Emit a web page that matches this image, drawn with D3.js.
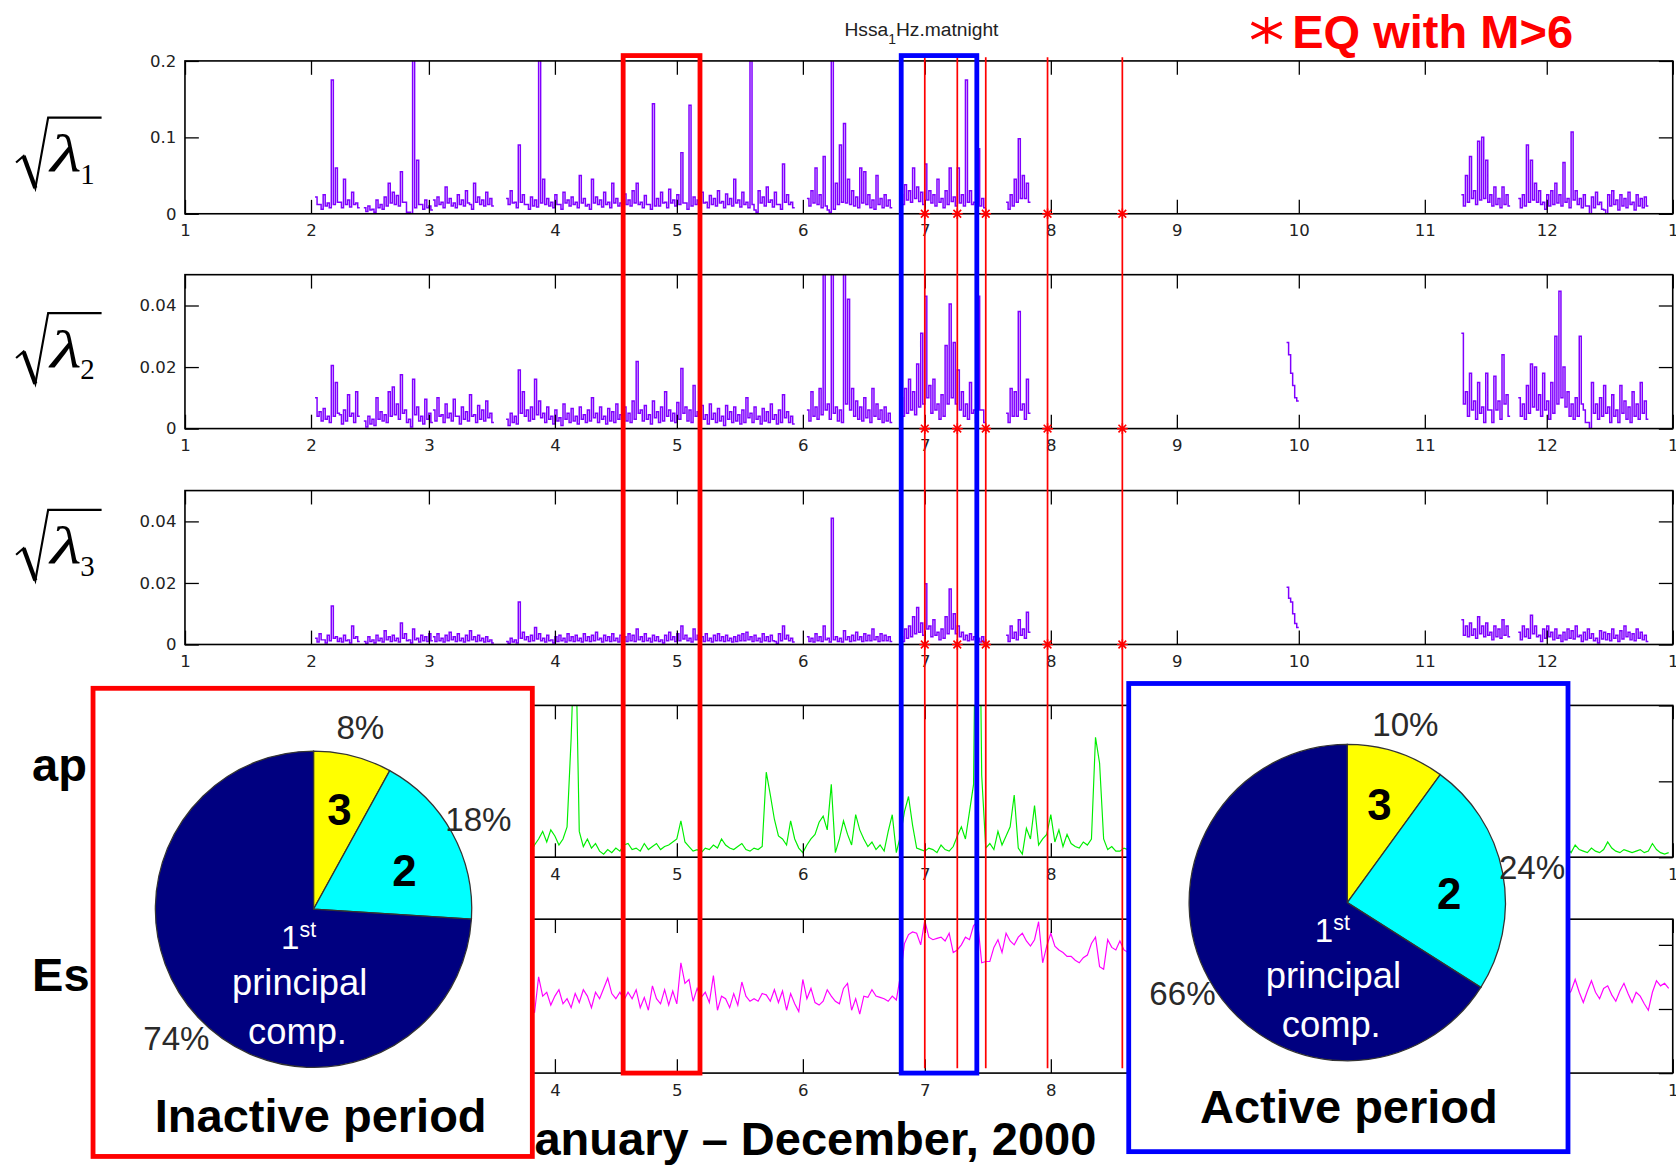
<!DOCTYPE html>
<html>
<head>
<meta charset="utf-8">
<script src="https://cdn.jsdelivr.net/npm/d3@7"></script>
<style>
body { margin: 0; background: #fff; }
.axis text { font-family: "DejaVu Sans", sans-serif; font-size: 15.5px; fill: #222; }
.axis line { stroke: #000; stroke-width: 1.2; }
.big { font-family: "Liberation Sans", Arial, sans-serif; font-weight: bold; font-size: 44px; }
.pct { font-family: "Liberation Sans", Arial, sans-serif; font-size: 31px; fill: #2a2a2a; }
.wht { font-family: "Liberation Sans", Arial, sans-serif; fill: #fff; }
</style>
</head>
<body>
<script>
// day of year (Jan 1 = 0) where each data run starts; one high and one low value per day
var lam1Start = [32, 44, 61, 79, 153, 176, 195, 202, 314, 328];
// sqrt(lambda1), daily highs, units of 0.001
var lam1Hi = [
  [22,12,25,14,175,60,15,45,18,28,14],
  [8,10,6,18,12,22,40,28,24,55,15,2,210,70,12,18,10],
  [18,22,15,35,20,14,25,18,30,12,40,22,18,28,20],
  [20,30,15,90,25,12,22,18,210,45, 20,15,25,12,28,18,22,15,50,20, 12,45,22,18,28,15,40,20,14,26,
   18,30,40,15,24,12,144,20,28,15, 32,18,25,80,14,142,22,18,28,15, 24,20,30,16,26,20,45,18,28,15,
   210,5,30,22,35,18,28,12,65,25, 15],
  [20,30,60,25,75,5,210,40,90,118,45,30,22,60,55,25,18,50,20,25,18],
  [25,38,30,60,35,28,65,30,25,45,20,30,60,22,60,25,175,30,15],
  [85,20],
  [15,25,45,98,50,40],
  [25,50,75,30,95,100,70,25,35,20,35,25],
  [20,25,90,70,40,30,15,25,30,40, 25,67,20,107,30,20,25,10,22,28, 15,5,25,30,18,25,20,28,15,25, 20,22]
];
// sqrt(lambda1), daily lows
var lam1Lo = [
  [12,6,10,8,12,15,8,12,9,12,8],
  [3,5,2,8,6,10,14,12,10,15,2,0,8,12,6,8,5],
  [10,12,8,14,10,8,12,10,14,6,15,12,10,12,10],
  [12,14,8,15,12,6,10,9,14,12, 10,8,12,6,14,10,12,8,14,10, 6,14,12,9,12,8,14,10,7,12,
   10,14,12,8,12,6,10,10,14,8, 14,10,12,14,6,10,12,10,14,8, 12,10,14,8,12,10,14,9,12,8,
   12,2,14,10,15,9,12,6,15,12, 8],
  [10,14,12,8,10,2,6,12,15,14,12,10,8,14,12,8,6,12,8,10,8],
  [12,18,15,20,16,12,18,14,10,15,8,12,16,10,14,10,15,12,6],
  [10,8],
  [6,10,15,20,20,15],
  [10,15,20,12,18,20,15,10,12,8,12,10],
  [8,10,15,18,15,12,6,10,12,14, 10,15,8,18,12,8,10,0,8,12, 6,0,10,12,5,10,8,12,5,10, 8,10]
];

var lam2Start = [32, 44, 61, 79, 153, 176, 195, 202, 271, 314, 328];
// sqrt(lambda2), daily highs, units of 0.0001
var lam2Hi = [
  [100,55,65,40,205,150,45,60,110,50,120],
  [25,40,30,100,55,45,120,135,80,175,60,30,160,70,40,95,50],
  [60,100,45,80,50,95,40,70,55,110,45,75,60,90,50],
  [30,50,40,190,120,60,70,160,90,50, 70,40,60,35,80,50,65,40,70,45, 60,100,50,70,40,65,55,80,45,70,
   50,90,218,60,75,45,90,55,70,120, 60,50,85,195,70,60,140,55,75,45, 80,50,65,40,75,55,70,45,60,100,
   50,70,40,65,55,80,45,60,110,55, 40],
  [60,120,70,130,600,80,600,70,60,600,420,130,90,70,100,60,130,80,60,70,50],
  [100,130,160,120,210,310,430,140,160,80,110,270,405,280,190,120,80,150,60],
  [430,60],
  [50,130,120,380,80,160],
  [280,180,100],
  [310,120,180,90,150,70,180,60,170,90,240,110],
  [100,80,140,210,200,110,180,90,150,300, 446,200,120,80,100,300,60,20,150,80, 100,140,70,110,60,140,90,70,120,80, 150,90]
];
var lam2Lo = [
  [40,25,30,20,40,50,15,25,40,20,40],
  [5,15,10,30,25,20,40,45,30,50,20,5,45,25,15,30,20],
  [25,40,20,35,25,40,15,30,25,40,20,30,25,35,20],
  [10,20,15,50,40,25,30,45,35,20, 30,15,25,10,30,20,25,15,30,20, 25,35,20,30,15,25,20,30,15,25,
   20,30,50,25,30,15,35,20,25,40, 25,20,30,50,25,20,40,20,30,15, 30,20,25,10,30,20,25,15,20,35,
   20,30,15,25,20,30,15,20,35,20, 15],
  [25,40,30,45,60,30,50,25,20,80,60,40,30,25,35,20,40,30,20,25,20],
  [40,50,60,45,70,80,100,50,60,30,40,80,100,80,60,40,30,50,20],
  [60,20],
  [20,40,40,60,30,50],
  [240,140,90],
  [80,40,60,30,50,20,60,20,60,30,80,40],
  [40,30,50,70,60,40,60,30,50,80, 100,70,40,30,40,80,20,0,50,30, 40,50,20,40,20,50,30,20,40,30, 50,30]
];

var lam3Start = [32, 44, 61, 79, 153, 176, 195, 202, 271, 314, 328];
// sqrt(lambda3), daily highs, units of 0.0001
var lam3Hi = [
  [20,35,15,30,125,25,20,30,15,60,25],
  [10,25,15,30,20,45,25,30,20,70,35,15,50,20,30,25,35],
  [25,35,20,30,40,25,35,20,30,45,25,30,20,25,15],
  [10,20,15,138,40,25,30,55,35,20, 30,15,25,30,20,35,25,30,20,35, 25,30,40,20,30,25,35,20,30,25,
   35,30,50,25,35,20,30,25,15,30, 40,25,35,60,30,20,50,30,25,35, 20,30,35,25,30,20,25,30,35,40,
   25,30,20,35,25,30,10,35,60,30, 20],
  [25,20,35,25,60,20,410,25,20,45,25,30,40,25,35,30,50,25,35,30,25],
  [25,50,60,90,120,70,197,60,80,40,50,90,180,100,60,40,30,35,25],
  [20,25],
  [30,60,40,80,50,105],
  [186,138,68],
  [80,60,70,50,90,60,70,40,60,50,80,60],
  [40,60,50,95,60,30,50,60,40,50, 30,40,50,45,60,30,40,50,35,20, 45,40,35,50,30,45,60,40,35,50, 40,30]
];
var lam3Lo = [
  [8,15,5,12,20,10,8,12,5,20,10],
  [3,10,5,12,8,15,10,12,8,20,12,5,15,8,12,10,12],
  [10,12,8,12,15,10,12,8,12,15,10,12,8,10,5],
  [3,8,5,20,15,10,12,18,12,8, 12,5,10,12,8,12,10,12,8,12, 10,12,15,8,12,10,12,8,12,10,
   12,10,15,10,12,8,12,10,5,12, 15,10,12,18,12,8,15,12,10,12, 8,12,12,10,12,8,10,12,12,15,
   10,12,8,12,10,12,3,12,18,12, 8],
  [10,8,12,10,15,8,15,10,8,15,10,12,15,10,12,12,15,10,12,12,10],
  [10,20,25,35,40,30,50,25,30,15,20,35,50,35,25,15,12,15,10],
  [8,10],
  [10,20,15,30,20,40],
  [150,100,55],
  [30,25,30,20,35,25,30,15,25,20,30,25],
  [15,25,20,35,25,10,20,25,15,20, 10,15,20,18,25,10,15,20,12,5, 18,15,12,20,10,18,25,15,12,20, 15,10]
];

// geomagnetic ap index, daily
var apStart = [85, 338];
var apVals = [
  [3,8,12,17,10,18,14,8,12,20, 78,160,17,7,12,6,9,4,2,5, 3,6,4,8,9,5,6,4,9,5, 7,9,5,7,8,10,12,24,10,7,
   4,5,3,6,5,8,6,12,8,6, 5,7,9,5,4,6,5,7,56,41, 25,14,12,8,24,12,6,3,8,12, 15,23,27,18,48,3,12,24,15,8,
   28,18,12,7,10,5,8,4,17,28, 3,14,30,40,21,6,5,4,6,5, 3,8,5,4,7,14,20,12,30,48, 300,54,6,9,5,17,8,14,20,41,
   6,2,19,12,34,8,12,15,28,10, 18,7,15,9,7,6,10,8,12,79, 62,12,5,7,4,4,6,5,4],
  [5,4,6,3,8,5,4,3,6,4, 3,5,10,6,4,3,5,4,3,4, 5,3,4,9,5,3,2,3]
];

// Es, daily
var esStart = [85, 338];
var esVals = [
  [5.8,4.7,7.5,6.0,6.3,5.3,6.0,6.5,5.4,5.8, 5.1,6.2,5.5,6.5,6.0,5.1,6.3,5.8,6.6,7.4, 6.2,5.8,6.3,5.7,6.3,5.8,6.5,5.1,5.9,4.9,
   6.8,5.8,5.4,6.5,5.3,6.4,5.4,8.6,7.0,7.3, 5.6,6.6,5.9,6.3,5.5,7.6,4.9,6.0,5.8,5.1, 6.2,5.3,7.1,6.0,5.6,5.8,5.6,6.2,6.1,5.6,
   6.5,5.5,6.4,4.9,6.2,5.4,4.8,7.3,5.8,6.6, 5.5,5.3,5.6,6.5,6.0,5.6,5.4,6.6,7.0,4.9, 5.8,4.6,6.0,5.9,6.5,6.0,5.9,5.8,5.6,6.0,
   5.7,7.6,10.1,10.8,11.0,10.9,10.0,11.9,10.6,10.4, 10.5,10.6,10.3,10.9,9.4,9.6,10.0,10.6,10.4,11.5,
   11.8,8.6,8.7,8.7,9.8,10.4,9.4,10.9,10.3,10.0, 10.6,10.9,10.3,9.9,10.4,11.8,8.6,9.9,10.9,9.9,
   9.6,9.4,9.1,9.1,8.8,8.6,9.0,9.2,10.1,10.6, 8.3,8.1,10.4,9.8,9.6,10.3,9.6,9.4,10.0],
  [6.2,6.4,6.0,6.4,7.3,6.3,5.5,6.4,7.2,6.3, 5.8,6.6,6.8,6.1,5.6,6.4,7.0,6.2,5.5,6.3, 6.0,5.4,4.9,6.3,7.2,6.8,7.0,6.6]
];

var lam1Ticks = [0, 0.1, 0.2];
var lam23Ticks = [0, 0.02, 0.04];
var apTicks = [0, 50, 100];
var esTicks = [0, 5, 10];

// earthquakes with M>6 (day of year)
var eqDays = [182, 190, 197, 212.2, 230.6];
// marked windows (day of year)
var inactiveWin = [107.8, 126.7];
var activeWin = [176.2, 194.8];

// pie shares, components 3, 2, 1
var pieComp = ["3", "2", "1"];
var pieColors = ["#ffff00", "#00ffff", "#000080"];
var inactiveShares = [8, 18, 74];
var activeShares = [10, 24, 66];

var yearStart = new Date(2000, 0, 1),
    yearEnd = new Date(2001, 0, 1);
function dayDate(d) { return new Date(yearStart.getTime() + d * 864e5); }

var svg = d3.select("body").append("svg")
    .attr("width", 1676).attr("height", 1165)
    .attr("viewBox", "0 0 1568 1090")
    .style("display", "block");

var x = d3.scaleTime().domain([yearStart, yearEnd]).range([173, 1565]);
var monthTicks = d3.timeMonth.range(yearStart, dayDate(367));

var panels = [
  {top: 57,  h: 143, max: 0.2,  ticks: lam1Ticks,  starts: lam1Start, vals: lam1Hi, lo: lam1Lo, unit: 1e-3, color: "#8000ff"},
  {top: 257, h: 144, max: 0.05, ticks: lam23Ticks, starts: lam2Start, vals: lam2Hi, lo: lam2Lo, unit: 1e-4, color: "#8000ff"},
  {top: 459, h: 144, max: 0.05, ticks: lam23Ticks, starts: lam3Start, vals: lam3Hi, lo: lam3Lo, unit: 1e-4, color: "#8000ff"},
  {top: 660, h: 142, max: 100,  ticks: apTicks,    starts: apStart,   vals: apVals,   unit: 1, color: "#00ee00"},
  {top: 860, h: 144, max: 12,   ticks: esTicks,    starts: esStart,   vals: esVals,   unit: 1, color: "#ff00ff"}
];

function segPoints(start, vals, lo, unit) {
  var pts = [];
  vals.forEach(function(v, i) {
    pts.push({date: dayDate(start + i), v: v * unit});
    if (lo) pts.push({date: dayDate(start + i + 0.5), v: lo[i] * unit});
  });
  // close the last step to the end of its day
  if (lo) pts.push({date: dayDate(start + vals.length), v: lo[lo.length - 1] * unit});
  return pts;
}

panels.forEach(function(p, i) {
  var y = d3.scaleLinear().domain([0, p.max]).range([p.top + p.h, p.top]);
  var step = !!p.lo;

  svg.append("clipPath").attr("id", "clip" + i)
    .append("rect").attr("x", 173).attr("y", p.top).attr("width", 1392).attr("height", p.h);

  var line = d3.line()
      .x(function(d) { return x(d.date); })
      .y(function(d) { return y(d.v); })
      .curve(step ? d3.curveStepAfter : d3.curveLinear);

  var g = svg.append("g").attr("clip-path", "url(#clip" + i + ")");
  p.starts.forEach(function(s, k) {
    g.append("path")
      .datum(segPoints(s, p.vals[k], step ? p.lo[k] : null, p.unit))
      .attr("d", line)
      .attr("fill", "none")
      .attr("stroke", p.color)
      .attr("stroke-width", step ? 1.4 : 1.1);
  });

  // MATLAB style axes: ticks inside, on all four sides
  var gb = svg.append("g").attr("class", "axis")
      .attr("transform", "translate(0," + (p.top + p.h) + ")")
      .call(d3.axisBottom(x).tickValues(monthTicks).tickFormat(d3.timeFormat("%-m"))
              .tickSizeInner(-13).tickSizeOuter(0).tickPadding(10));
  gb.select(".domain").remove();
  var gt = svg.append("g").attr("class", "axis")
      .attr("transform", "translate(0," + p.top + ")")
      .call(d3.axisTop(x).tickValues(monthTicks).tickFormat("").tickSizeInner(-13).tickSizeOuter(0));
  gt.select(".domain").remove();
  var gl = svg.append("g").attr("class", "axis")
      .attr("transform", "translate(173,0)")
      .call(d3.axisLeft(y).tickValues(p.ticks).tickFormat(String).tickSizeInner(-13).tickSizeOuter(0).tickPadding(8));
  gl.select(".domain").remove();
  var gr = svg.append("g").attr("class", "axis")
      .attr("transform", "translate(1565,0)")
      .call(d3.axisRight(y).tickValues(p.ticks).tickFormat("").tickSizeInner(-13).tickSizeOuter(0));
  gr.select(".domain").remove();

  svg.append("rect")
    .attr("x", 173).attr("y", p.top).attr("width", 1392).attr("height", p.h)
    .attr("fill", "none").attr("stroke", "#000").attr("stroke-width", 1.5);
});

// earthquake lines and star markers
svg.selectAll(".eq").data(eqDays).enter().append("line")
    .attr("x1", function(d) { return x(dayDate(d)); })
    .attr("x2", function(d) { return x(dayDate(d)); })
    .attr("y1", 53.5).attr("y2", 999.5)
    .attr("stroke", "#ff0000").attr("stroke-width", 1.6);
panels.slice(0, 3).forEach(function(p) {
  var yb = p.top + p.h;
  eqDays.forEach(function(d) {
    var cx = x(dayDate(d));
    svg.append("path")
      .attr("d", "M" + (cx - 5) + "," + yb + "H" + (cx + 5) + "M" + cx + "," + (yb - 5) + "V" + (yb + 5) +
                 "M" + (cx - 3.6) + "," + (yb - 3.6) + "L" + (cx + 3.6) + "," + (yb + 3.6) +
                 "M" + (cx - 3.6) + "," + (yb + 3.6) + "L" + (cx + 3.6) + "," + (yb - 3.6))
      .attr("stroke", "#ff0000").attr("stroke-width", 1.5).attr("fill", "none");
  });
});

// period windows
[[inactiveWin, "#ff0000"], [activeWin, "#0000ff"]].forEach(function(w) {
  var x0 = x(dayDate(w[0][0])), x1 = x(dayDate(w[0][1]));
  svg.append("rect")
    .attr("x", x0).attr("y", 52).attr("width", x1 - x0).attr("height", 952)
    .attr("fill", "none").attr("stroke", w[1]).attr("stroke-width", 4.5);
});

// x title
svg.append("text").attr("class", "big")
    .attr("x", 475.5).attr("y", 1081)
    .text("January \u2013 December, 2000");

// panel labels: sqrt(lambda_n)
[110, 293, 477].forEach(function(y0, i) {
  svg.append("path")
    .attr("d", "M15," + (y0 + 42) + "L22," + (y0 + 36) + "L33," + (y0 + 66) + "L45," + y0 + "L95," + y0)
    .attr("fill", "none").attr("stroke", "#000").attr("stroke-width", 2).attr("stroke-linejoin", "miter");
  svg.append("path")
    .attr("d", "M22," + (y0 + 36) + "L33," + (y0 + 66))
    .attr("stroke", "#000").attr("stroke-width", 4);
  svg.append("text")
    .attr("transform", "translate(47," + (y0 + 50) + ") scale(1.35,1)")
    .style("font-family", "'Liberation Serif', 'Times New Roman', serif")
    .style("font-style", "italic").style("font-size", "50px")
    .text("\u03bb");
  svg.append("text")
    .attr("x", 75).attr("y", y0 + 62)
    .style("font-family", "'Liberation Serif', 'Times New Roman', serif")
    .style("font-size", "27px")
    .text(i + 1);
});
svg.append("text").attr("class", "big").attr("x", 30).attr("y", 731).text("ap");
svg.append("text").attr("class", "big").attr("x", 30).attr("y", 927).text("Es");

// title
var title = svg.append("text").attr("x", 790).attr("y", 34)
    .style("font-family", "'Liberation Sans', Arial, sans-serif").style("font-size", "18px").attr("fill", "#222");
title.append("tspan").text("Hssa");
title.append("tspan").attr("dy", 7).style("font-size", "13px").text("1");
title.append("tspan").attr("dy", -7).text("Hz.matnight");

// EQ legend
svg.append("path")
    .attr("d", "M1185,16V41M1171,21.5L1199,35.5M1171,35.5L1199,21.5")
    .attr("stroke", "#ff0000").attr("stroke-width", 3.2).attr("fill", "none");
svg.append("text").attr("class", "big").attr("x", 1209).attr("y", 45)
    .attr("fill", "#ff0000").text("EQ with M>6");

// pies
var pie = d3.pie().sort(null).value(function(d) { return d; });
var r = 148;
var arc = d3.arc().innerRadius(0).outerRadius(r);
var pctArc = d3.arc().innerRadius(176).outerRadius(176);
var numArc = d3.arc().innerRadius(97).outerRadius(97);

function drawPie(box, stroke, cx, cy, shares, caption, capX, capY) {
  svg.append("rect")
    .attr("x", box[0]).attr("y", box[1]).attr("width", box[2]).attr("height", box[3])
    .attr("fill", "#fff").attr("stroke", stroke).attr("stroke-width", 4.5);

  var g = svg.append("g").attr("transform", "translate(" + cx + "," + cy + ")");
  var arcs = pie(shares);
  g.selectAll("path").data(arcs).enter().append("path")
    .attr("d", arc)
    .attr("fill", function(d, i) { return pieColors[i]; })
    .attr("stroke", "#333").attr("stroke-width", 1.2);

  g.selectAll(".pct").data(arcs).enter().append("text")
    .attr("class", "pct")
    .attr("transform", function(d) { return "translate(" + pctArc.centroid(d) + ")"; })
    .attr("text-anchor", "middle").attr("dy", "0.36em")
    .text(function(d) { return d.data + "%"; });

  g.selectAll(".num").data(arcs.slice(0, 2)).enter().append("text")
    .attr("class", "big")
    .style("font-size", "41px")
    .attr("transform", function(d) { return "translate(" + numArc.centroid(d) + ")"; })
    .attr("text-anchor", "middle").attr("dy", function(d, i) { return i ? "0.6em" : "0.36em"; })
    .text(function(d, i) { return pieComp[i]; });

  var t1 = g.append("text").attr("class", "wht").attr("x", -14).attr("y", 37).attr("text-anchor", "middle");
  t1.append("tspan").style("font-size", "31px").text("1");
  t1.append("tspan").attr("dy", -11).style("font-size", "20px").text("st");
  g.append("text").attr("class", "wht").attr("x", -13).attr("y", 80).attr("text-anchor", "middle")
    .style("font-size", "34px").text("principal");
  g.append("text").attr("class", "wht").attr("x", -15).attr("y", 126).attr("text-anchor", "middle")
    .style("font-size", "34px").text("comp.");

  svg.append("text").attr("class", "big")
    .attr("x", capX).attr("y", capY).attr("text-anchor", "middle")
    .text(caption);
}

drawPie([87, 644, 411, 438], "#ff0000", 293.3, 850.7, inactiveShares, "Inactive period", 300, 1059);
drawPie([1056, 639.5, 411, 438], "#0000ff", 1260.5, 844.5, activeShares, "Active period", 1262, 1051);
</script>
</body>
</html>
